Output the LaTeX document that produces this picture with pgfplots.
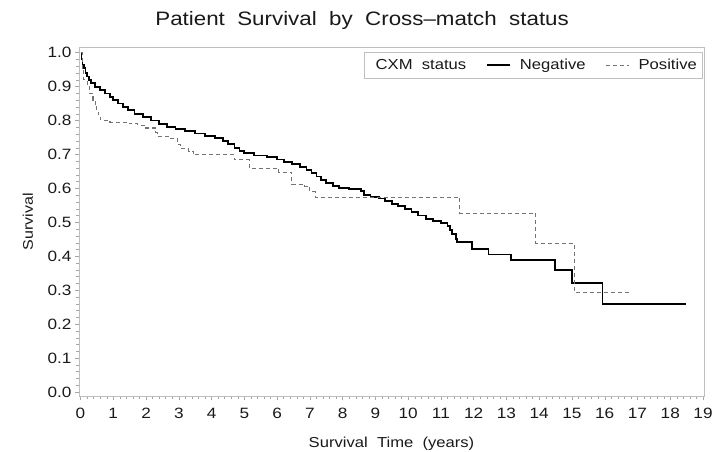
\documentclass[border=0pt]{standalone}
\usepackage{fontspec}
\setmainfont{Liberation Sans}[FakeStretch=1.15]
\usepackage{pgfplots}
\pgfplotsset{compat=1.18}
\begin{document}
\begin{tikzpicture}
\begin{axis}[
  at={(0,0)}, anchor=south west,
  scale only axis, width=625bp, height=349bp,
  xmin=-0.046, xmax=19.03, ymin=-0.0118, ymax=1.0168,
  xtick={0,1,...,19},
  ytick={0,0.1,0.2,0.3,0.4,0.5,0.6,0.7,0.8,0.9,1.0},
  minor x tick num=4, minor y tick num=4,
  tick align=outside, tick pos=left,
  major tick length=4bp, minor tick length=2.5bp,
  axis line style={black!25},
  every tick/.style={black!35},
  /pgf/number format/assume math mode=true,
  tick label style={font=\fontsize{15}{17}\selectfont, text=black!90},
  yticklabel style={/pgf/number format/.cd, fixed, fixed zerofill, precision=1},
  xticklabel style={yshift=-5bp, /pgf/number format/.cd, fixed, precision=0},
  title={Patient\ \ Survival\ \ by\ \ Cross–match\ \ status},
  title style={at={(axis description cs:0.453,1)}, anchor=base, yshift=16bp, font=\fontsize{19.5}{22}\selectfont, text=black!90},
  xlabel={Survival\ \ Time\ \ (years)},
  xlabel style={at={(axis description cs:0.5,0)}, anchor=center, yshift=-48bp, font=\fontsize{14.5}{16}\selectfont, text=black!90},
  ylabel={Survival},
  ylabel style={at={(axis description cs:-0.0816,0.5)}, anchor=center, font=\fontsize{14}{16}\selectfont, text=black!90},
  legend columns=-1,
  legend style={at={(axis description cs:1,1)}, anchor=north east, xshift=-2bp, yshift=-5bp,
    draw=black!25, font=\fontsize{14.5}{16}\selectfont, text=black!90,
    inner xsep=3bp, inner ysep=5bp,
    /tikz/every odd column/.append style={column sep=7bp},
    /tikz/every even column/.append style={column sep=18bp}},
  legend image code/.code={\draw[#1] (0bp,0bp) -- (23bp,0bp);},
]
\addlegendimage{empty legend}
\addlegendentry{CXM\ \ status}
\addplot[const plot, black, line width=1.8bp] coordinates {
(0,1.0) (0.03,0.98) (0.06,0.965) (0.1,0.955) (0.15,0.94) (0.2,0.93) (0.26,0.92)
(0.33,0.91) (0.45,0.90) (0.6,0.89) (0.75,0.88) (0.9,0.87) (1.0,0.86) (1.15,0.85)
(1.3,0.84) (1.45,0.83) (1.65,0.82) (1.9,0.81) (2.15,0.80) (2.4,0.79) (2.65,0.78)
(2.9,0.775) (3.2,0.77) (3.5,0.762) (3.8,0.755) (4.1,0.748) (4.35,0.74) (4.5,0.73)
(4.7,0.72) (4.85,0.71) (5.0,0.704) (5.3,0.697) (5.7,0.692) (6.0,0.685) (6.2,0.678)
(6.45,0.672) (6.7,0.664) (6.9,0.655) (7.05,0.645) (7.2,0.635) (7.35,0.625) (7.5,0.615)
(7.7,0.607) (7.9,0.602) (8.2,0.598) (8.55,0.592) (8.65,0.58) (8.85,0.575) (9.1,0.57)
(9.3,0.562) (9.5,0.555) (9.7,0.548) (9.9,0.54) (10.1,0.53) (10.3,0.52) (10.55,0.51)
(10.75,0.505) (11.0,0.498) (11.2,0.49) (11.28,0.478) (11.35,0.465) (11.45,0.45)
(11.5,0.443) (11.94,0.421) (12.45,0.405) (13.15,0.39) (14.47,0.36) (15.0,0.322)
(15.93,0.26) (18.48,0.26)
};
\addlegendentry{Negative}
\addplot[const plot, black!55, line width=1.1bp, dash pattern=on 4bp off 3bp] coordinates {
(0,1.0) (0.05,0.95) (0.1,0.92) (0.2,0.9) (0.28,0.88) (0.38,0.86) (0.45,0.84)
(0.5,0.825) (0.56,0.81) (0.62,0.80) (0.9,0.795) (1.5,0.79) (1.75,0.785) (2.0,0.778)
(2.3,0.765) (2.35,0.753) (2.7,0.748) (2.95,0.73) (3.05,0.718) (3.3,0.71) (3.45,0.699)
(4.7,0.684) (5.15,0.66) (6.05,0.647) (6.45,0.611) (6.85,0.606) (7.0,0.59) (7.16,0.573)
(11.58,0.527) (13.9,0.438) (15.07,0.293) (16.82,0.293)
};
\addlegendentry{Positive}
\end{axis}
\pgfresetboundingbox
\path[use as bounding box] (-79bp,-56bp) rectangle (635bp,396bp);
\end{tikzpicture}
\end{document}
